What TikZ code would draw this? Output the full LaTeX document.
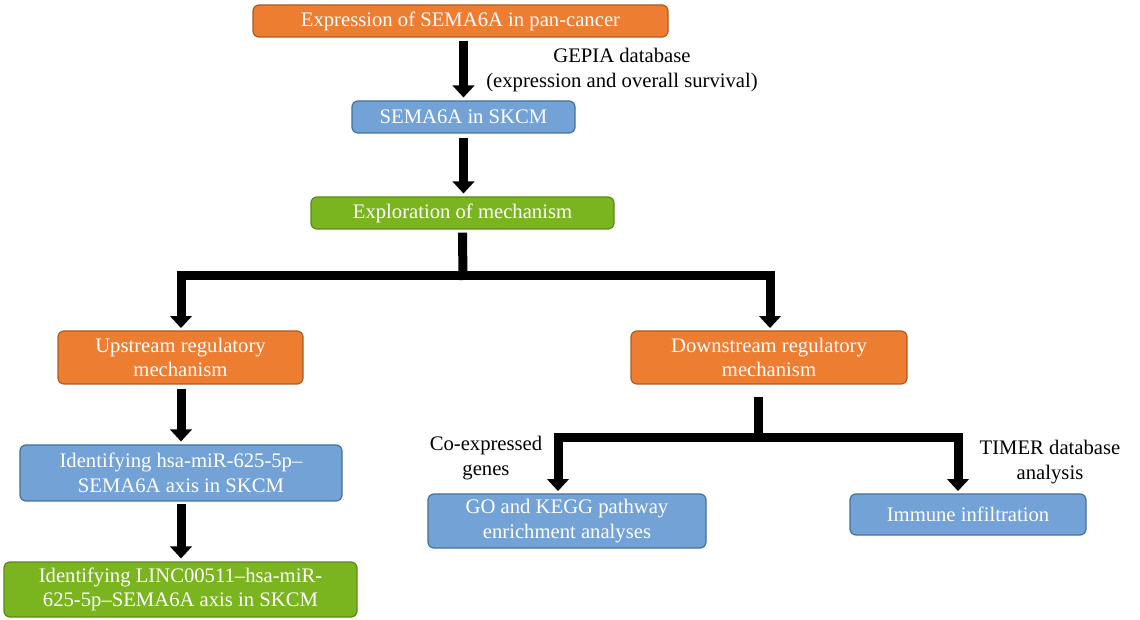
\documentclass[tikz,border=0pt]{standalone}
\usepackage{fontspec}
\setmainfont{Liberation Serif}
\usetikzlibrary{arrows.meta,calc}
\definecolor{orfill}{HTML}{ED7D31}
\definecolor{ordraw}{HTML}{AE5A21}
\definecolor{blfill}{HTML}{72A2D6}
\definecolor{bldraw}{HTML}{41719C}
\definecolor{grfill}{HTML}{7AB51F}
\definecolor{grdraw}{HTML}{5A8A1A}
\tikzset{
  box/.style={rounded corners=4.5pt, line width=0.9pt, text=white, align=center,
    inner sep=0pt, font=\fontsize{15.5}{18.5}\selectfont},
  orbox/.style={box, fill=orfill, draw=ordraw},
  blbox/.style={box, fill=blfill, draw=bldraw},
  grbox/.style={box, fill=grfill, draw=grdraw},
  lbl/.style={align=center, inner sep=0pt, text=black, font=\fontsize{15.5}{18.5}\selectfont},
  arr/.style={line width=6.75pt, draw=black, line join=miter,
    -{Triangle[width=16pt,length=9pt]}, shorten >=2.2pt},
  stem/.style={line width=6.75pt, draw=black}
}
\begin{document}
\begin{tikzpicture}[x=0.75pt,y=-0.75pt]
\useasboundingbox (0,0) rectangle (1140,620);
\fill[white] (0,0) rectangle (1140,620);

\node[orbox, minimum width=311.25pt, minimum height=24pt] (expr) at (460.5,21) {Expression of SEMA6A in pan-cancer};
\node[blbox, minimum width=167.25pt, minimum height=24pt] (skcm) at (463.5,117) {SEMA6A in SKCM};
\node[grbox, minimum width=227.25pt, minimum height=24pt] (explo) at (462.5,213) {Exploration of mechanism};
\node[orbox, minimum width=183.75pt, minimum height=39.75pt] (up) at (180.5,357.5) {Upstream regulatory\\mechanism};
\node[orbox, minimum width=207pt, minimum height=39.75pt] (down) at (769,357.5) {Downstream regulatory\\mechanism};
\node[blbox, minimum width=241.5pt, minimum height=42pt] (hsa) at (181,473) {Identifying hsa-miR-625-5p--\\SEMA6A axis in SKCM};
\node[grbox, minimum width=264.75pt, minimum height=41.25pt] (linc) at (180.5,589.5) {Identifying LINC00511--hsa-miR-\\625-5p--SEMA6A axis in SKCM};
\node[blbox, minimum width=208.5pt, minimum height=40.5pt] (go) at (567,521) {GO and KEGG pathway\\enrichment analyses};
\node[blbox, minimum width=177pt, minimum height=30.75pt] (imm) at (968,514.5) {Immune infiltration};

\node[lbl] (gepia) at (622,70) {GEPIA database\\(expression and overall survival)};
\node[lbl] (coexp) at (486,458) {Co-expressed\\genes};
\node[lbl] (timer) at (1050,462) {TIMER database\\analysis};

% top arrows
\draw[arr, shorten <=2.2pt] (expr.south -| skcm.north) -- (skcm.north);
\draw[arr, shorten <=3pt] (skcm.south) -- (skcm.south |- explo.north);

% first tree
\coordinate (j1) at (463,276);
\coordinate (upin) at (181,331);
\coordinate (downin) at (770,331);
\draw[arr] (j1) -| (upin);
\draw[arr] (j1) -| (downin);
\draw[stem] ($(explo.south)+(0,3)$) -- ($(j1)+(0,4)$);

% upstream chain
\draw[arr, shorten <=3pt] (up.south -| hsa.north) -- (hsa.north);
\draw[arr, shorten <=2pt] (hsa.south) -- (hsa.south |- linc.north);

% downstream tree
\coordinate (d0) at (758,397);
\coordinate (j2) at (758,438);
\coordinate (goin) at (558,494);
\coordinate (immin) at (958,494);
\draw[arr] (j2) -| (goin);
\draw[arr] (j2) -| (immin);
\draw[stem] (d0) -- ($(j2)+(0,4)$);
\end{tikzpicture}
\end{document}
